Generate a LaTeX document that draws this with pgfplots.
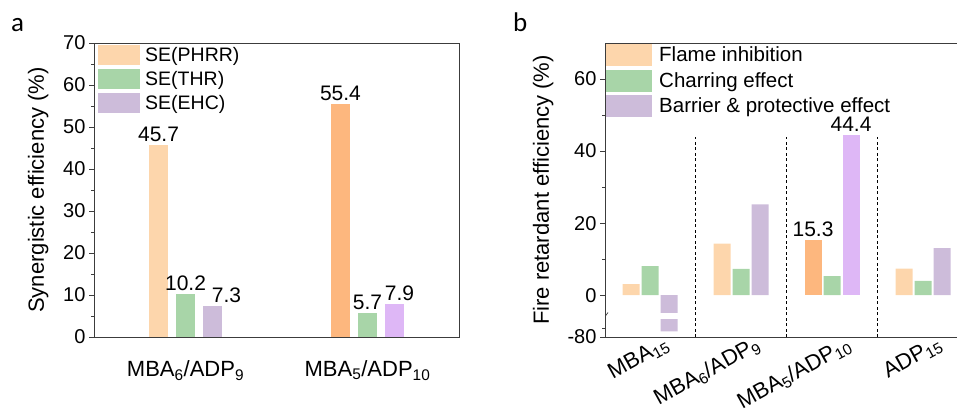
\documentclass[border=0pt]{standalone}
\usepackage{fontspec}
\setmainfont{Liberation Sans}
\newfontfamily\panelfont{Carlito}
\usepackage{pgfplots}
\pgfplotsset{compat=1.18}
\definecolor{lorange}{RGB}{253,214,172}
\definecolor{dorange}{RGB}{253,183,126}
\definecolor{lgreen}{RGB}{168,213,168}
\definecolor{lpurple}{RGB}{205,188,218}
\definecolor{bpurple}{RGB}{222,183,246}
\definecolor{axgray}{RGB}{60,60,60}
\begin{document}
\begin{tikzpicture}[x=1pt,y=1pt]
\pgfplotsset{
  common/.style={
    scale only axis, anchor=south west, height=294pt,
    ybar,
    x tick style={draw=none},
    tick align=outside, major tick length=5pt, minor tick length=3pt,
    axis line style={line width=0.8pt, axgray},
    every tick/.style={axgray, line width=0.8pt},
    ytick pos=left,
    /pgf/number format/assume math mode=true,
    yticklabel style={font=\fontsize{20}{24}\selectfont},
    xticklabel style={font=\fontsize{22}{26}\selectfont},
    label style={font=\fontsize{22}{26}\selectfont},
    nodes near coords style={font=\fontsize{21}{25}\selectfont, black},
    legend cell align=left,
  },
}
% ---------------- panel a ----------------
\begin{axis}[common,
  at={(94pt,79pt)}, width=365pt,
  xmin=-0.503, xmax=1.503,
  ymin=0, ymax=70,
  ytick={0,10,...,70}, minor ytick={5,15,...,65},
  xtick={0,1},
  xticklabels={MBA\textsubscript{6}/ADP\textsubscript{9}, MBA\textsubscript{5}/ADP\textsubscript{10}},
  xticklabel style={yshift=-15pt},
  bar width=19pt,
  ylabel={Synergistic efficiency (\%)},
  ylabel style={at={(axis description cs:-0.153,0.5)}, anchor=center},
  legend image code/.code={\fill[#1,draw=none] (0pt,-10pt) rectangle (42pt,10pt);},
  legend style={at={(axis description cs:0,1)}, anchor=north west, xshift=4pt, yshift=-2pt,
    draw=none, fill=none, inner sep=0pt, row sep=4pt,
    font=\fontsize{19.5}{23}\selectfont, nodes={inner sep=0pt},
    /tikz/every odd column/.style={column sep=5pt}},
]
\addplot[fill=lorange, draw=none, bar shift=-27pt, nodes near coords] coordinates {(0,45.7)};
\addlegendentry{SE(PHRR)}
\addplot[fill=lgreen, draw=none, bar shift=0pt, nodes near coords] coordinates {(0,10.2)};
\addlegendentry{SE(THR)}
\addplot[fill=lpurple, draw=none, bar shift=27pt, nodes near coords, nodes near coords style={xshift=14pt}] coordinates {(0,7.3)};
\addlegendentry{SE(EHC)}
\addplot[fill=dorange, draw=none, bar shift=-27pt, nodes near coords, forget plot] coordinates {(1,55.4)};
\addplot[fill=lgreen, draw=none, bar shift=0pt, nodes near coords, forget plot] coordinates {(1,5.7)};
\addplot[fill=bpurple, draw=none, bar shift=27pt, nodes near coords, nodes near coords style={xshift=5pt}, forget plot] coordinates {(1,7.9)};
\end{axis}
% ---------------- panel b ----------------
\begin{axis}[common,
  at={(605pt,79pt)}, width=360pt,
  xmin=-0.495, xmax=3.461,
  y coord trafo/.code={\pgfmathparse{(#1>=-5) ? (#1) : (((#1)>=-69.2) ? (-5+((#1)+5)*0.02555) : (-11.6+((#1)+80)*0.46))}},
  ymin=-80, ymax=70,
  ytick={-80,0,20,40,60}, yticklabels={-80,0,20,40,60},
  minor ytick={-75,10,30,50},
  xtick={0,1,2,3},
  xticklabels={MBA\textsubscript{15}, MBA\textsubscript{6}/ADP\textsubscript{9}, MBA\textsubscript{5}/ADP\textsubscript{10}, ADP\textsubscript{15}},
  xticklabel style={xshift=14pt, yshift=12pt, rotate=29, anchor=north east},
  bar width=17pt,
  ylabel={Fire retardant efficiency (\%)},
  ylabel style={at={(axis description cs:-0.172,0.5)}, anchor=center},
  legend image code/.code={\fill[#1,draw=none] (0pt,-11pt) rectangle (46pt,11pt);},
  legend style={at={(axis description cs:0,1)}, anchor=north west, xshift=1pt, yshift=-1pt,
    draw=none, fill=none, inner sep=0pt, row sep=3.5pt,
    font=\fontsize{20.5}{24}\selectfont, nodes={inner sep=0pt},
    /tikz/every odd column/.style={column sep=7pt}},
]
\addplot[fill=lorange, draw=none, bar shift=-19pt] coordinates {(0,3.1) (1,14.3) (3,7.4)};
\addlegendentry{Flame inhibition}
\addplot[fill=lgreen, draw=none, bar shift=0pt] coordinates {(0,8.1) (1,7.3) (2,5.3) (3,4.0)};
\addlegendentry{Charring effect}
\addplot[fill=lpurple, draw=none, bar shift=19pt] coordinates {(0,-76.6) (1,25.2) (3,13.1)};
\addlegendentry{Barrier \& protective effect}
\addplot[fill=dorange, draw=none, bar shift=-19pt, nodes near coords, forget plot] coordinates {(2,15.3)};
\addplot[fill=bpurple, draw=none, bar shift=19pt, nodes near coords, forget plot] coordinates {(2,44.4)};
% axis break
\fill[white] ([xshift=6pt]axis cs:0,-5) rectangle ([xshift=32pt]axis cs:0,-69.2);
\draw[axgray, line width=0.7pt] ([xshift=-3pt,yshift=-5pt]axis cs:-0.495,-30) -- ([xshift=3pt,yshift=3pt]axis cs:-0.495,-30);
% separators
\foreach \xx in {0.5,1.5,2.5} {
  \edef\tmp{\noexpand\draw[black, line width=0.8pt, dash pattern=on 3pt off 2.5pt] (axis cs:\xx,-80) -- (axis cs:\xx,44);}
  \tmp
}
\end{axis}
% panel letters
\node[anchor=base west, font=\panelfont\fontsize{27}{30}\selectfont, inner sep=0pt] at (11pt,384pt) {a};
\node[anchor=base west, font=\panelfont\fontsize{27}{30}\selectfont, inner sep=0pt] at (513pt,384pt) {b};
\pgfresetboundingbox
\useasboundingbox (0,0) rectangle (957pt,416pt);
\end{tikzpicture}
\end{document}
